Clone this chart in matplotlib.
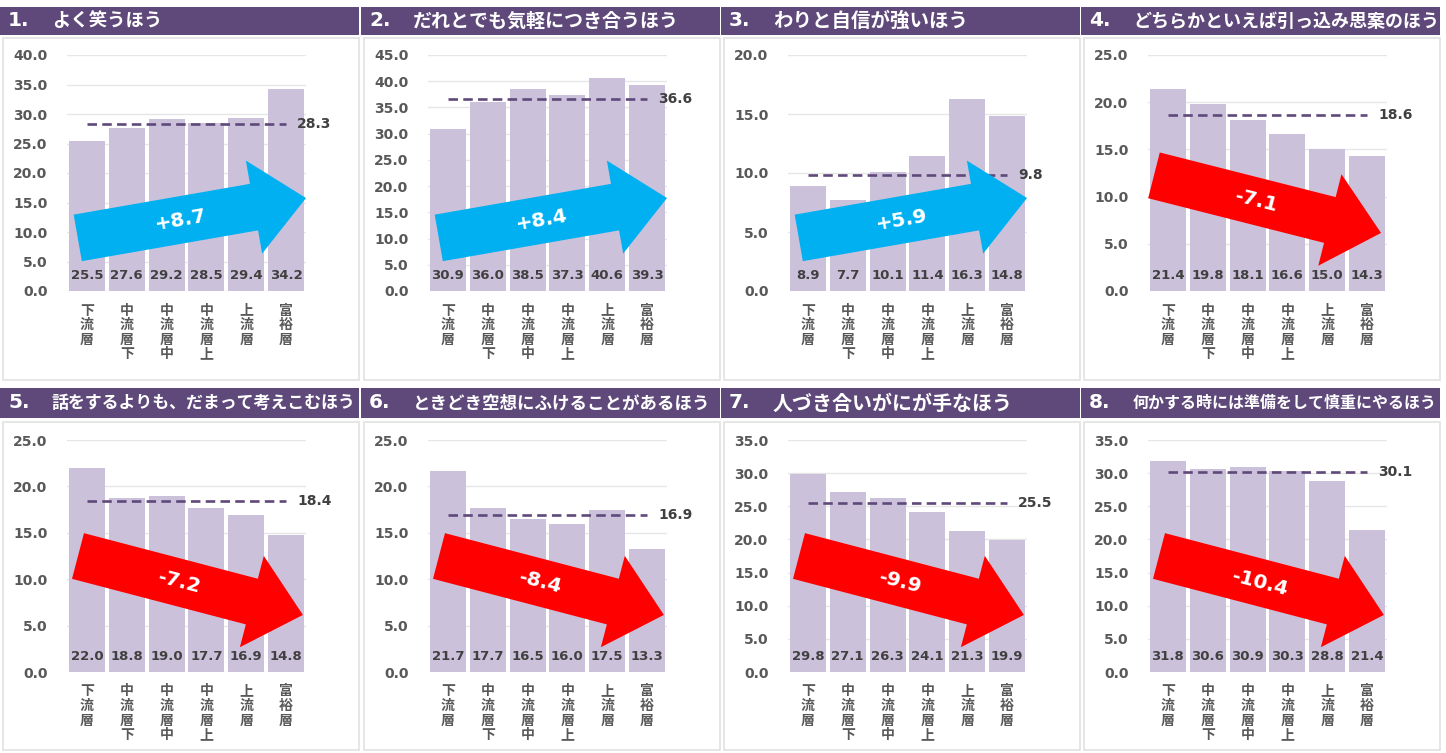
import math
import matplotlib
matplotlib.use('Agg')
import matplotlib.pyplot as plt
from matplotlib.patches import Rectangle, FancyArrowPatch, ArrowStyle

plt.rcParams['font.family'] = ['DejaVu Sans', 'Noto Sans CJK JP']

# Data
categories = ['下流層', '中流層下', '中流層中', '中流層上', '上流層', '富裕層']
titles = [
    'よく笑うほう',
    'だれとでも気軽につき合うほう',
    'わりと自信が強いほう',
    'どちらかといえば引っ込み思案のほう',
    '話をするよりも、だまって考えこむほう',
    'ときどき空想にふけることがあるほう',
    '人づき合いがにが手なほう',
    '何かする時には準備をして慎重にやるほう',
]
v1 = [25.5, 27.6, 29.2, 28.5, 29.4, 34.2]
v2 = [30.9, 36.0, 38.5, 37.3, 40.6, 39.3]
v3 = [8.9, 7.7, 10.1, 11.4, 16.3, 14.8]
v4 = [21.4, 19.8, 18.1, 16.6, 15.0, 14.3]
v5 = [22.0, 18.8, 19.0, 17.7, 16.9, 14.8]
v6 = [21.7, 17.7, 16.5, 16.0, 17.5, 13.3]
v7 = [29.8, 27.1, 26.3, 24.1, 21.3, 19.9]
v8 = [31.8, 30.6, 30.9, 30.3, 28.8, 21.4]
values = [v1, v2, v3, v4, v5, v6, v7, v8]
means = [28.3, 36.6, 9.8, 18.6, 18.4, 16.9, 25.5, 30.1]
ymax = [40, 45, 20, 25, 25, 25, 35, 35]

# Layout (pixels)
W, H = 1446, 753
COL_X = [0, 361, 721, 1081]
TITLE_Y = [(7, 35), (388, 418)]
BODY_Y = [(38, 380), (422, 750)]
AX_Y = [(55, 291), (440, 672)]
TITLE_SIZE = [13.2, 13.7, 14, 13, 12.2, 12.6, 14.4, 11.5]

PURPLE = '#5F497A'
BAR = '#CCC1DA'
BLUE = '#00B0F0'
RED = '#FF0000'
GRAY = '#595959'
DARK = '#404040'

fig = plt.figure(figsize=(W / 100, H / 100), dpi=100)
fig.patch.set_facecolor('white')


def fx(x):
    return x / W


def fy(y):
    return 1 - y / H


for i in range(8):
    row, col = divmod(i, 4)
    x0 = COL_X[col]
    vals = values[i]

    # title bar + panel body
    t_top, t_bot = TITLE_Y[row]
    fig.patches.append(Rectangle((fx(x0), fy(t_bot)), fx(359), (t_bot - t_top) / H,
                                 transform=fig.transFigure, facecolor=PURPLE,
                                 edgecolor='none', zorder=-2))
    b_top, b_bot = BODY_Y[row]
    fig.patches.append(Rectangle((fx(x0 + 3), fy(b_bot)), fx(356), (b_bot - b_top) / H,
                                 transform=fig.transFigure, facecolor='white',
                                 edgecolor='#E2E2E2', linewidth=1.2, zorder=-2))
    ty = fy((t_top + t_bot) / 2)
    fig.text(fx(x0 + 8), ty, f'{i + 1}.', color='white', fontsize=14.5,
             fontweight='bold', va='center', ha='left')
    fig.text(fx(x0 + 52), ty, titles[i], color='white', fontsize=TITLE_SIZE[i],
             fontweight='bold', family=['Noto Sans CJK JP'], va='center', ha='left')

    # axes
    a_top, a_bot = AX_Y[row]
    ax = fig.add_axes([fx(x0 + 67), fy(a_bot), 239 / W, (a_bot - a_top) / H])
    ax.set_facecolor('none')
    x = list(range(len(categories)))
    ax.bar(x, vals, width=0.9, color=BAR, zorder=2)
    ax.set_xlim(-0.5, 5.5)
    ax.set_ylim(0, ymax[i])
    ticks = list(range(0, ymax[i] + 1, 5))
    ax.set_yticks(ticks)
    ax.set_yticklabels([f'{t:.1f}' for t in ticks], fontsize=10,
                       fontweight='bold', color=GRAY)
    ax.set_xticks(x)
    ax.set_xticklabels(['\n'.join(c) for c in categories], fontsize=10,
                       fontweight='bold', color=GRAY, family=['Noto Sans CJK JP'],
                       linespacing=1.05)
    ax.tick_params(length=0)
    ax.tick_params(axis='y', pad=14)
    ax.tick_params(axis='x', pad=9)
    for s in ax.spines.values():
        s.set_visible(False)
    ax.yaxis.grid(True, color='#E6E6E6', linewidth=1)
    ax.set_axisbelow(True)

    # mean line
    ax.plot([0, 5], [means[i], means[i]], color=PURPLE, linewidth=1.9,
            linestyle=(0, (3.6, 2)), zorder=3)
    ax.annotate(f'{means[i]:.1f}', xy=(5, means[i]), xytext=(8, 0),
                textcoords='offset points', va='center', ha='left',
                fontsize=10, fontweight='bold', color=DARK, annotation_clip=False)

    # bar value labels
    for xi, v in zip(x, vals):
        ax.annotate(f'{v:.1f}', xy=(xi, 0), xytext=(0, 11), textcoords='offset points',
                    ha='center', va='center', fontsize=9.5, fontweight='bold',
                    color=DARK, zorder=6)

    # trend arrow
    diff = round(vals[-1] - vals[0], 1)
    if diff > 0:
        p0, p1, col_ = (0.045, 0.225), (1.0, 0.394), BLUE
    elif row == 0:
        p0, p1, col_ = (0.025, 0.49), (0.975, 0.246), RED
    else:
        p0, p1, col_ = (0.046, 0.50), (0.987, 0.246), RED
    arrow = FancyArrowPatch(p0, p1, transform=ax.transAxes,
                            arrowstyle=ArrowStyle.Simple(head_length=38, head_width=68,
                                                         tail_width=34),
                            mutation_scale=1, color=col_, shrinkA=0, shrinkB=0,
                            linewidth=0, zorder=4, clip_on=False)
    ax.add_patch(arrow)
    ax_h = a_bot - a_top
    ang = math.degrees(math.atan2((p1[1] - p0[1]) * ax_h, (p1[0] - p0[0]) * 239))
    tx = p0[0] + 0.45 * (p1[0] - p0[0])
    tyy = p0[1] + 0.45 * (p1[1] - p0[1])
    ax.text(tx, tyy, f'{diff:+.1f}', transform=ax.transAxes, rotation=ang,
            rotation_mode='anchor', ha='center', va='center', color='white',
            fontsize=14.5, fontweight='bold', zorder=5)

fig.savefig('out.png', dpi=100, facecolor='white')
